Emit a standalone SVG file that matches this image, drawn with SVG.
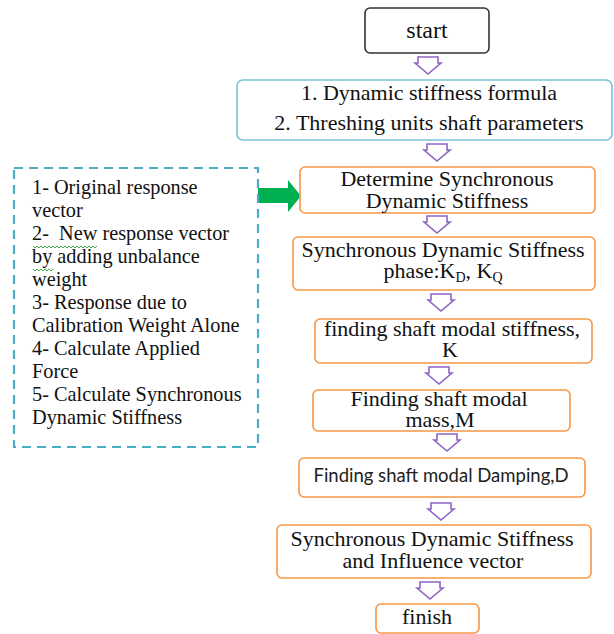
<svg xmlns="http://www.w3.org/2000/svg" width="614" height="634" viewBox="0 0 614 634">
<defs>
<style>
.t{font-family:"Liberation Serif","Times New Roman",serif;font-size:22px;fill:#111;text-anchor:middle}
.l{font-family:"Liberation Serif","Times New Roman",serif;font-size:20.3px;fill:#111;white-space:pre}
.s{font-family:Lato,"Liberation Sans",sans-serif;font-size:18.5px;fill:#222;text-anchor:middle}
.sub{font-size:14px}
.ob{fill:#fff;stroke:#f79646;stroke-width:1.6}
.arr{fill:#fff;stroke:#8e64c4;stroke-width:1.6;stroke-linejoin:miter}
.sq{fill:none;stroke:#3fae49;stroke-width:1}
</style>
<path id="da" d="M-10,0 H10 V6 H13 L0,17 L-13,6 H-10 Z"/>
</defs>
<rect width="614" height="634" fill="#fff"/>

<g id="connectors">
<use href="#da" class="arr" x="428" y="57"/>
<use href="#da" class="arr" x="437" y="144"/>
<use href="#da" class="arr" x="437" y="216"/>
<use href="#da" class="arr" x="441" y="294"/>
<use href="#da" class="arr" x="439" y="367"/>
<use href="#da" class="arr" x="447" y="434"/>
<use href="#da" class="arr" x="441" y="503"/>
<use href="#da" class="arr" x="430" y="582"/>
<path id="green-arrow" d="M258,188 H288 V180 L301,196 L288,212 V203 H258 Z" fill="#00b050"/>
</g>

<g id="start">
<rect x="365" y="8" width="124" height="45" rx="5" fill="#fff" stroke="#333" stroke-width="1.6"/>
<text class="t" x="427" y="38" style="font-size:24px">start</text>
</g>

<g id="inputs">
<rect x="237" y="80" width="375" height="60" rx="6" fill="#fff" stroke="#79c3d5" stroke-width="1.6"/>
<text class="t" x="429" y="100">1. Dynamic stiffness formula</text>
<text class="t" x="429" y="130">2. Threshing units shaft parameters</text>
</g>

<g id="steps-box">
<rect x="14" y="168" width="244" height="279" fill="none" stroke="#4bacc6" stroke-width="2.2" stroke-dasharray="9,6"/>
<text class="l" x="32" y="194">1- Original response</text>
<text class="l" x="32" y="217">vector</text>
<text class="l" x="32" y="240">2-  New response vector</text>
<text class="l" x="32" y="263">by adding unbalance</text>
<text class="l" x="32" y="286">weight</text>
<text class="l" x="32" y="309">3- Response due to</text>
<text class="l" x="32" y="332">Calibration Weight Alone</text>
<text class="l" x="32" y="355">4- Calculate Applied</text>
<text class="l" x="32" y="378">Force</text>
<text class="l" x="32" y="401">5- Calculate Synchronous</text>
<text class="l" x="32" y="424">Dynamic Stiffness</text>
<path class="sq" d="M33,246 l2,2 l2,-2 l2,2 l2,-2 l2,2 l2,-2 l2,2 l2,-2 l2,2 l2,-2 l2,2 l2,-2 l2,2 l2,-2 l2,2 l2,-2 l2,2 l2,-2 l2,2 l2,-2 l2,2 l2,-2 l2,2 l2,-2 l2,2 l2,-2 l2,2 l2,-2 l2,2 l2,-2 l2,2 l2,-2"/>
<path class="sq" d="M33,269 l2,2 l2,-2 l2,2 l2,-2 l2,2 l2,-2 l2,2 l2,-2 l2,2 l2,-2"/>
</g>

<g id="determine">
<rect class="ob" x="300" y="167" width="295" height="46" rx="5"/>
<text class="t" x="447" y="186">Determine Synchronous</text>
<text class="t" x="447" y="208">Dynamic Stiffness</text>
</g>

<g id="phase">
<rect class="ob" x="293" y="237" width="302" height="53" rx="5"/>
<text class="t" x="443" y="257">Synchronous Dynamic Stiffness</text>
<text class="t" x="443" y="278">phase:K<tspan class="sub" dy="4">D</tspan><tspan dy="-4">, K</tspan><tspan class="sub" dy="4">Q</tspan></text>
</g>

<g id="stiffness">
<rect class="ob" x="315" y="319" width="277" height="44" rx="5"/>
<text class="t" x="452" y="336">finding shaft modal stiffness,</text>
<text class="t" x="450" y="357">K</text>
</g>

<g id="mass">
<rect class="ob" x="313" y="390" width="257" height="41" rx="5"/>
<text class="t" x="439" y="406">Finding shaft modal</text>
<text class="t" x="440" y="427">mass,M</text>
</g>

<g id="damping">
<rect class="ob" x="299" y="458" width="286" height="39" rx="5"/>
<text class="s" x="441" y="482">Finding shaft modal Damping,D</text>
</g>

<g id="influence">
<rect class="ob" x="277" y="525" width="314" height="53" rx="5"/>
<text class="t" x="432" y="546">Synchronous Dynamic Stiffness</text>
<text class="t" x="433" y="568">and Influence vector</text>
</g>

<g id="finish">
<rect class="ob" x="376" y="604" width="103" height="29" rx="5"/>
<text class="t" x="427" y="624">finish</text>
</g>
</svg>
